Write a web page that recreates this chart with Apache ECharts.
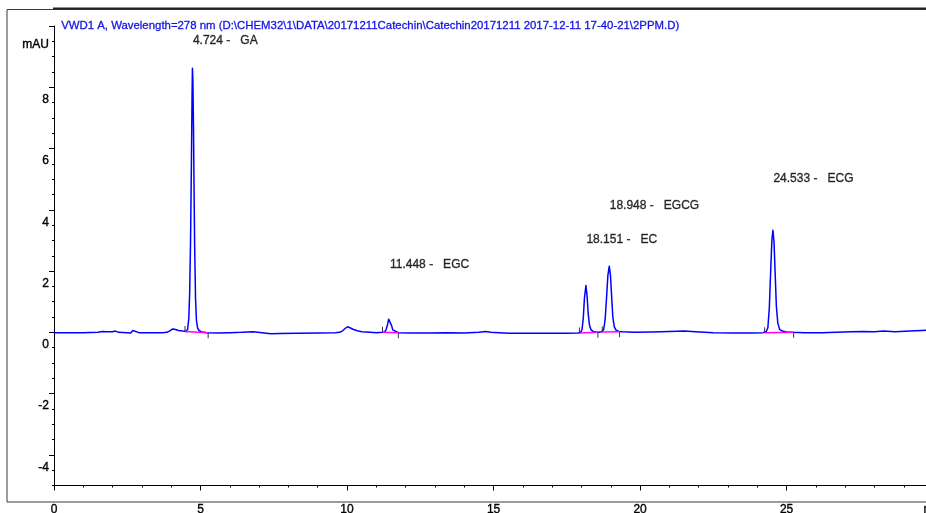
<!DOCTYPE html>
<html>
<head>
<meta charset="utf-8">
<script src="https://cdn.jsdelivr.net/npm/echarts@6/dist/echarts.min.js"></script>
<style>
html,body{margin:0;padding:0;background:#fff}
#chart{width:926px;height:513px}
</style>
</head>
<body>
<div id="chart"></div>
<script>
// VWD1 A trace: retention time (min) and absorbance (mAU)
const traceTime = [
  0.00, 0.50, 1.00, 1.50, 1.65, 1.80, 2.00, 2.10, 2.20, 2.50, 2.62, 2.65, 2.69, 2.73, 2.90, 3.30, 3.70,
  3.85, 3.95, 4.05, 4.15, 4.25, 4.40, 4.50,
  4.56, 4.60, 4.63, 4.66, 4.69, 4.71, 4.724, 4.74, 4.76, 4.78, 4.80, 4.83, 4.86, 4.90, 4.95, 5.02,
  5.20, 5.60, 6.00, 6.40, 6.80, 7.10, 7.40, 7.70, 8.30, 9.00, 9.60,
  9.75, 9.85, 9.95, 10.02, 10.10, 10.20, 10.35, 10.50, 10.80, 11.00,
  11.20, 11.28, 11.33, 11.38, 11.42, 11.448, 11.48, 11.52, 11.56, 11.62, 11.75,
  12.20, 12.80, 13.40, 14.00, 14.50, 14.72, 14.90, 15.50, 16.20, 16.90, 17.50,
  17.90, 17.98, 18.02, 18.06, 18.10, 18.151, 18.19, 18.23, 18.27, 18.32, 18.40, 18.50, 18.58,
  18.64, 18.70, 18.76, 18.81, 18.86, 18.90, 18.948, 18.99, 19.03, 19.07, 19.12, 19.18, 19.28, 19.40,
  19.80, 20.40, 21.00, 21.50, 21.90, 22.50, 23.20, 23.80,
  24.20, 24.30, 24.36, 24.41, 24.46, 24.50, 24.533, 24.57, 24.61, 24.65, 24.70, 24.76, 24.85, 25.00, 25.20,
  25.60, 26.20, 26.70, 27.20, 27.60, 28.00, 28.30, 28.70, 29.20, 29.60, 30.10
];
const traceSignal = [
  -0.01, -0.01, -0.01, 0.00, 0.03, 0.02, 0.02, 0.04, 0.00, -0.01, -0.02, -0.08, 0.06, 0.00, -0.01, -0.01, -0.01,
  0.00, 0.05, 0.11, 0.09, 0.06, 0.04, 0.03,
  0.10, 0.45, 1.30, 3.00, 5.60, 7.60, 8.62, 8.20, 6.70, 4.60, 2.80, 1.10, 0.40, 0.14, 0.06, 0.02,
  -0.01, -0.02, -0.01, 0.00, 0.02, -0.01, -0.05, -0.04, -0.03, -0.02, -0.01,
  0.00, 0.05, 0.14, 0.18, 0.15, 0.10, 0.05, 0.02, 0.00, -0.01,
  0.00, 0.01, 0.08, 0.25, 0.43, 0.49, 0.42, 0.22, 0.08, 0.03, -0.01,
  -0.02, -0.02, -0.01, -0.02, 0.00, 0.03, 0.00, -0.03, -0.03, -0.03, -0.03,
  -0.02, 0.01, 0.10, 0.45, 1.10, 1.53, 1.20, 0.60, 0.25, 0.09, 0.03, 0.01, 0.00,
  0.01, 0.02, 0.10, 0.45, 1.20, 1.85, 2.16, 1.85, 1.15, 0.50, 0.18, 0.07, 0.03, 0.02,
  0.00, 0.01, 0.03, 0.04, 0.02, -0.01, -0.02, -0.02,
  -0.01, 0.02, 0.15, 0.80, 2.10, 3.05, 3.33, 2.95, 1.90, 0.85, 0.30, 0.10, 0.04, 0.01, 0.00,
  -0.01, -0.01, 0.00, 0.02, 0.03, 0.02, 0.04, 0.02, 0.04, 0.06, 0.08
];

// Integrated peaks
const peakNames = ['GA', 'EGC', 'EC', 'EGCG', 'ECG'];
const peakTimes = [4.724, 11.448, 18.151, 18.948, 24.533];
const peakStart = [4.47, 11.21, 17.93, 18.71, 24.25];
const peakEnd = [5.26, 11.75, 18.56, 19.30, 25.24];
const startLevel = [0.03, 0.00, -0.02, 0.01, -0.01];
const endLevel = [-0.01, -0.01, 0.00, 0.02, 0.00];

// Axis ticks
const yMajorTicks = [-4, -2, 0, 2, 4, 6, 8, 10];
const yMinorTicks = [-5, -4.5, -4, -3.5, -3, -2.5, -2, -1.5, -1, -0.5, 0, 0.5, 1, 1.5, 2, 2.5, 3, 3.5,
  4, 4.5, 5, 5.5, 6, 6.5, 7, 7.5, 8, 8.5, 9, 9.5, 10];
const xTickStep = 5;

// Height (mAU) at which each peak annotation is written
const labelLevels = [9.52, 2.22, 3.02, 4.13, 5.03];

const FONT = '"Liberation Sans", Arial, sans-serif';
const Y_MIN = -5, Y_MAX = 10, X_MAX = 30.2;
const INK = { textBorderColor: '#000', textBorderWidth: 0.35 };

const trace = traceTime.map((t, i) => [t, traceSignal[i]]);

const baselineSeries = peakNames.map((n, i) => ({
  type: 'line',
  name: n + ' baseline',
  data: [[peakStart[i], startLevel[i]], [peakEnd[i], endLevel[i]]],
  showSymbol: false,
  silent: true,
  z: 4,
  lineStyle: { color: '#ff00ff', width: 1.5 }
}));

const chart = echarts.init(document.getElementById('chart'), null, { renderer: 'canvas' });
chart.setOption({
  animation: false,
  backgroundColor: '#ffffff',
  textStyle: { fontFamily: FONT },
  grid: { left: 54, right: -13, top: 26, bottom: 27.5, outerBoundsMode: 'none', containLabel: false },
  graphic: [
    { type: 'rect', shape: { x: 7, y: 9.5, width: 960, height: 492.5 },
      style: { fill: 'none', stroke: '#3a3a3a', lineWidth: 1 }, z: 0, silent: true },
    { type: 'line', shape: { x1: 53, y1: 8.5, x2: 926, y2: 8.5 },
      style: { stroke: '#222', lineWidth: 2 }, z: 0, silent: true },
    { type: 'text', left: 61, top: 20,
      style: { text: 'VWD1 A, Wavelength=278 nm (D:\\CHEM32\\1\\DATA\\20171211Catechin\\Catechin20171211 2017-12-11 17-40-21\\2PPM.D)',
        fill: '#1414e6', stroke: '#1414e6', lineWidth: 0.3, font: '11.4px ' + FONT }, z: 10 }
  ],
  xAxis: {
    type: 'value', min: 0, max: X_MAX, interval: xTickStep,
    axisLine: { onZero: false, lineStyle: { color: '#000', width: 1 } },
    axisTick: { show: true, length: 5, lineStyle: { color: '#000' } },
    minorTick: { show: true, splitNumber: 5, length: 2, lineStyle: { color: '#000' } },
    splitLine: { show: false },
    axisLabel: Object.assign({
      margin: 18, color: '#000', fontSize: 12, fontFamily: FONT,
      formatter: v => (v === 30 ? 'min' : (v % 5 === 0 ? String(v) : ''))
    }, INK)
  },
  yAxis: [
    {
      type: 'value', min: Y_MIN, max: Y_MAX,
      axisLine: { show: true, lineStyle: { color: '#000', width: 1 } },
      axisTick: { show: true, length: 5, customValues: yMajorTicks, lineStyle: { color: '#000' } },
      splitLine: { show: false },
      axisLabel: {
        customValues: yMajorTicks, margin: 5, color: '#000', fontSize: 12, fontFamily: FONT,
        verticalAlign: 'top',
        formatter: v => (v === 10 ? '{u|mAU}' : '{n|' + v + '}'),
        rich: {
          n: Object.assign({ lineHeight: 25, fontSize: 12, fontFamily: FONT, color: '#000' }, INK),
          u: Object.assign({ lineHeight: 37, fontSize: 12, fontFamily: FONT, color: '#000' }, INK)
        }
      }
    },
    {
      type: 'value', min: Y_MIN, max: Y_MAX, position: 'left',
      axisLine: { show: false },
      axisTick: { show: true, length: 2, customValues: yMinorTicks, lineStyle: { color: '#000' } },
      axisLabel: { show: false },
      splitLine: { show: false }
    }
  ],
  series: [
    {
      type: 'line', name: 'VWD1 A', data: trace,
      showSymbol: false, silent: true, z: 3,
      smooth: false,
      lineStyle: { color: '#0000ff', width: 1.5, join: 'round' }
    },
    ...baselineSeries,
    {
      type: 'scatter', name: 'start marks', silent: true, z: 5,
      data: peakStart.map((t, i) => [t, startLevel[i]]),
      symbol: 'rect', symbolSize: [1, 5], symbolOffset: [0, -3],
      itemStyle: { color: '#000' }
    },
    {
      type: 'scatter', name: 'end marks', silent: true, z: 5,
      data: peakEnd.map((t, i) => [t, endLevel[i]]),
      symbol: 'rect', symbolSize: [1, 5], symbolOffset: [0, 3],
      itemStyle: { color: '#000' }
    },
    {
      type: 'scatter', name: 'peak labels', silent: true, z: 6,
      data: peakNames.map((n, i) => [peakTimes[i], labelLevels[i], n]),
      symbolSize: 1, itemStyle: { color: 'rgba(0,0,0,0)' },
      label: Object.assign({
        show: true, position: 'right', distance: 0,
        color: '#000', fontSize: 12, fontFamily: FONT,
        formatter: p => p.value[0].toFixed(3) + ' -   ' + p.value[2]
      }, INK)
    }
  ]
});
</script>
</body>
</html>
